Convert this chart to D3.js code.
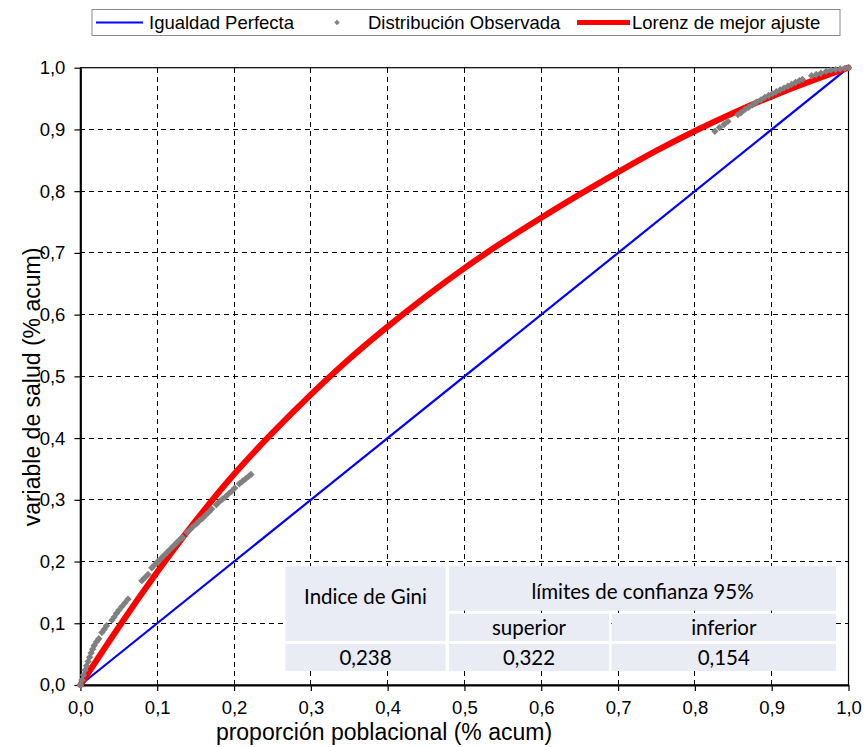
<!DOCTYPE html>
<html>
<head>
<meta charset="utf-8">
<script src="https://cdnjs.cloudflare.com/ajax/libs/d3/7.8.5/d3.min.js"></script>
<style>
  html, body { margin: 0; padding: 0; background: #ffffff; }
  svg { display: block; }
</style>
</head>
<body>
<svg id="chart" width="866" height="747"></svg>
<script>
// ---------------- DATA ----------------
const xTickValues = [0, 0.1, 0.2, 0.3, 0.4, 0.5, 0.6, 0.7, 0.8, 0.9, 1.0];
const yTickValues = [0, 0.1, 0.2, 0.3, 0.4, 0.5, 0.6, 0.7, 0.8, 0.9, 1.0];

// Igualdad perfecta (diagonal)
const equalityX = [0, 1];
const equalityY = [0, 1];

// Lorenz de mejor ajuste
const lorenzX = [0, 0.05, 0.1, 0.15, 0.2, 0.25, 0.3, 0.35, 0.4, 0.45, 0.5, 0.55, 0.6, 0.65, 0.7, 0.75, 0.8, 0.85, 0.9, 0.95, 1.0];
const lorenzY = [0, 0.095, 0.184, 0.267, 0.343, 0.409, 0.471, 0.529, 0.581, 0.630, 0.676, 0.718, 0.757, 0.795, 0.831, 0.866, 0.898, 0.927, 0.954, 0.978, 1.0];

// Distribución observada (estimated points)
const observedX = [0, 0.002, 0.004, 0.006, 0.008, 0.010, 0.012, 0.014, 0.016, 0.018, 0.021, 0.024,
  0.028, 0.031, 0.034,
  0.041, 0.044, 0.047,
  0.050, 0.054, 0.058, 0.062,
  0.080, 0.084, 0.088,
  0.093, 0.097, 0.101, 0.105, 0.109, 0.113, 0.117, 0.121, 0.125, 0.129, 0.133,
  0.139, 0.143, 0.147, 0.151, 0.155, 0.159, 0.163, 0.167, 0.171,
  0.177, 0.181, 0.185, 0.189, 0.193, 0.197, 0.201,
  0.207, 0.211, 0.215, 0.219, 0.222,
  0.826, 0.832,
  0.838, 0.843,
  0.856, 0.860, 0.865, 0.870, 0.875, 0.880, 0.886,
  0.891, 0.896, 0.901, 0.906, 0.911, 0.916, 0.921, 0.926, 0.931, 0.936, 0.940,
  0.952, 0.958, 0.964, 0.971, 0.977, 0.983, 0.989, 0.995, 1.0];
const observedY = [0, 0.008, 0.016, 0.024, 0.031, 0.038, 0.045, 0.052, 0.058, 0.064, 0.070, 0.075,
  0.085, 0.090, 0.096,
  0.105, 0.110, 0.116,
  0.121, 0.127, 0.133, 0.139,
  0.169, 0.174, 0.179,
  0.190, 0.195, 0.200, 0.205, 0.210, 0.215, 0.220, 0.225, 0.230, 0.235, 0.239,
  0.247, 0.252, 0.257, 0.261, 0.266, 0.270, 0.275, 0.280, 0.285,
  0.292, 0.297, 0.301, 0.305, 0.310, 0.314, 0.319,
  0.326, 0.330, 0.334, 0.338, 0.341,
  0.897, 0.903,
  0.908, 0.913,
  0.924, 0.927, 0.932, 0.936, 0.940, 0.944, 0.948,
  0.952, 0.955, 0.958, 0.961, 0.964, 0.967, 0.970, 0.973, 0.976, 0.979, 0.981,
  0.987, 0.989, 0.991, 0.994, 0.996, 0.997, 0.998, 0.999, 1.0];

const legendLabels = ["Igualdad Perfecta", "Distribución Observada", "Lorenz de mejor ajuste"];
const xTitle = "proporción poblacional (% acum)";
const yTitle = "variable de salud (% acum)";

const tableHeaderGini = "Indice de Gini";
const tableHeaderLimits = "límites de confianza 95%";
const tableSubHeaders = ["superior", "inferior"];
const tableValues = ["0,238", "0,322", "0,154"];

// ---------------- DRAWING ----------------
const svg = d3.select("#chart");
const X0 = 80.4, X1 = 848.5, Y0 = 685, Y1 = 67.7;
const x = d3.scaleLinear().domain([0, 1]).range([X0, X1]);
const y = d3.scaleLinear().domain([0, 1]).range([Y0, Y1]);
const fmt = v => d3.format(".1f")(v).replace(".", ",");
const arial = "'Liberation Sans', Arial, sans-serif";

// gridlines
const grid = svg.append("g");
grid.selectAll(".vg").data(xTickValues.filter(v => v > 0 && v < 1)).enter().append("line")
  .attr("x1", d => x(d)).attr("x2", d => x(d)).attr("y1", Y0).attr("y2", Y1)
  .attr("stroke", "#000").attr("stroke-width", 1).attr("stroke-dasharray", "5,4").attr("shape-rendering", "crispEdges");
grid.selectAll(".hg").data(yTickValues.filter(v => v > 0 && v < 1)).enter().append("line")
  .attr("x1", X0).attr("x2", X1).attr("y1", d => y(d)).attr("y2", d => y(d))
  .attr("stroke", "#000").attr("stroke-width", 1).attr("stroke-dasharray", "5,4").attr("shape-rendering", "crispEdges");

// plot border (top/right)
svg.append("rect").attr("x", X0).attr("y", Y1).attr("width", X1 - X0).attr("height", Y0 - Y1)
  .attr("fill", "none").attr("stroke", "#000").attr("stroke-width", 1.2);

// axes
const xAxis = svg.append("g").attr("transform", `translate(0,${Y0})`)
  .call(d3.axisBottom(x).tickValues(xTickValues).tickFormat(fmt).tickSizeInner(6).tickSizeOuter(0).tickPadding(10));
const yAxis = svg.append("g").attr("transform", `translate(${X0},0)`)
  .call(d3.axisLeft(y).tickValues(yTickValues).tickFormat(fmt).tickSizeInner(6).tickSizeOuter(0).tickPadding(9));
[xAxis, yAxis].forEach(a => {
  a.select(".domain").attr("stroke", "#000").attr("stroke-width", 2);
  a.selectAll(".tick line").attr("stroke", "#000").attr("stroke-width", 1.2);
  a.selectAll("text").attr("font-family", arial).attr("font-size", 18.5).attr("fill", "#000");
});

// equality line
const eqData = equalityX.map((v, i) => [v, equalityY[i]]);
svg.append("path").datum(eqData)
  .attr("d", d3.line().x(d => x(d[0])).y(d => y(d[1])))
  .attr("fill", "none").attr("stroke", "#0000ff").attr("stroke-width", 2.2);

// lorenz fitted curve
const lzData = lorenzX.map((v, i) => [v, lorenzY[i]]);
svg.append("path").datum(lzData)
  .attr("d", d3.line().x(d => x(d[0])).y(d => y(d[1])).curve(d3.curveBasis))
  .attr("fill", "none").attr("stroke", "#ff0000").attr("stroke-width", 6).attr("stroke-linecap", "round");

// observed distribution (gray diamonds)
const obsData = observedX.map((v, i) => [v, observedY[i]]);
svg.append("g").selectAll("path").data(obsData).enter().append("path")
  .attr("d", d3.symbol().type(d3.symbolSquare).size(27))
  .attr("transform", d => `translate(${x(d[0])},${y(d[1])}) rotate(45)`)
  .attr("fill", "#808080");

// table
const cols = [[285.5, 445.5], [449, 609], [611.6, 836]];
const rows = [[566, 610.7], [614, 641], [644, 671]];
const tbl = svg.append("g");
const cellFill = "#e9ebf5";
const cells = [
  {x0: cols[0][0], x1: cols[0][1], y0: rows[0][0], y1: rows[1][1], t: tableHeaderGini, ty: 597},
  {x0: cols[1][0], x1: cols[2][1], y0: rows[0][0], y1: rows[0][1], t: tableHeaderLimits, ty: 592},
  {x0: cols[1][0], x1: cols[1][1], y0: rows[1][0], y1: rows[1][1], t: tableSubHeaders[0], ty: 628},
  {x0: cols[2][0], x1: cols[2][1], y0: rows[1][0], y1: rows[1][1], t: tableSubHeaders[1], ty: 628},
  {x0: cols[0][0], x1: cols[0][1], y0: rows[2][0], y1: rows[2][1], t: tableValues[0], ty: 657.5},
  {x0: cols[1][0], x1: cols[1][1], y0: rows[2][0], y1: rows[2][1], t: tableValues[1], ty: 657.5},
  {x0: cols[2][0], x1: cols[2][1], y0: rows[2][0], y1: rows[2][1], t: tableValues[2], ty: 657.5}
];
tbl.selectAll("rect").data(cells).enter().append("rect")
  .attr("x", d => d.x0).attr("y", d => d.y0).attr("width", d => d.x1 - d.x0).attr("height", d => d.y1 - d.y0)
  .attr("fill", cellFill);
tbl.selectAll("text").data(cells).enter().append("text")
  .attr("x", d => (d.x0 + d.x1) / 2).attr("y", d => d.ty).attr("dy", "0.36em")
  .attr("text-anchor", "middle").attr("font-family", "Lato, 'Open Sans', sans-serif").attr("font-size", 20.5).attr("fill", "#000")
  .text(d => d.t);

// axis titles
svg.append("text").attr("x", 384).attr("y", 740).attr("text-anchor", "middle")
  .attr("font-family", arial).attr("font-size", 23).attr("fill", "#000").text(xTitle);
svg.append("text").attr("transform", "translate(40,387) rotate(-90)").attr("text-anchor", "middle")
  .attr("font-family", arial).attr("font-size", 23).attr("fill", "#000").text(yTitle);

// legend
const lg = svg.append("g");
lg.append("rect").attr("x", 92).attr("y", 9.5).attr("width", 748).attr("height", 26)
  .attr("fill", "#fff").attr("stroke", "#888").attr("stroke-width", 1);
lg.append("line").attr("x1", 96).attr("x2", 143).attr("y1", 22.5).attr("y2", 22.5).attr("stroke", "#0000ff").attr("stroke-width", 2);
lg.append("text").attr("x", 149).attr("y", 29).attr("font-family", arial).attr("font-size", 18.5).text(legendLabels[0]);
lg.append("path").attr("d", d3.symbol().type(d3.symbolSquare).size(14)).attr("transform", "translate(337,22.5) rotate(45)").attr("fill", "#808080");
lg.append("text").attr("x", 368).attr("y", 29).attr("font-family", arial).attr("font-size", 18.5).text(legendLabels[1]);
lg.append("line").attr("x1", 577).attr("x2", 630).attr("y1", 22.5).attr("y2", 22.5).attr("stroke", "#ff0000").attr("stroke-width", 5);
lg.append("text").attr("x", 632).attr("y", 29).attr("font-family", arial).attr("font-size", 18.5).text(legendLabels[2]);
</script>
</body>
</html>
